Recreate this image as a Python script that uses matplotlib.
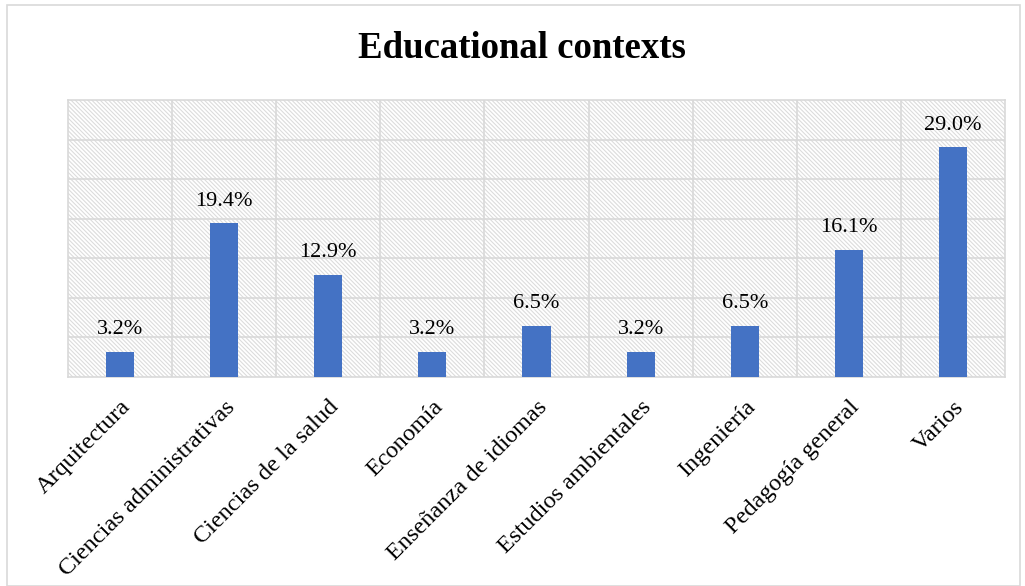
import matplotlib.pyplot as plt
from matplotlib.patches import Rectangle

# data
categories = ["Arquitectura", "Ciencias administrativas", "Ciencias de la salud",
              "Economía", "Enseñanza de idiomas", "Estudios ambientales",
              "Ingeniería", "Pedagogía general", "Varios"]
values = [3.2, 19.4, 12.9, 3.2, 6.5, 3.2, 6.5, 16.1, 29.0]
labels = ["3.2%", "19.4%", "12.9%", "3.2%", "6.5%", "3.2%", "6.5%", "16.1%", "29.0%"]

plt.rcParams['font.family'] = ['Liberation Serif', 'DejaVu Serif']
plt.rcParams['hatch.linewidth'] = 0.8
plt.rcParams['hatch.color'] = '#dcdcdc'

fig = plt.figure(figsize=(10.25, 5.86), dpi=100)
W, H = 1025, 586

# outer chart border
fig.patches.append(Rectangle((7 / W, 0), 1013 / W, 1 - 5 / H, transform=fig.transFigure,
                             fill=False, edgecolor='#d9d9d9', linewidth=1.2))

ax = fig.add_axes([68 / W, 1 - 377 / H, (1005 - 68) / W, (377 - 100) / H])

# hatched plot background
ax.add_patch(Rectangle((0, 0), 1, 1, transform=ax.transAxes, facecolor='white',
                       hatch='\\\\\\\\\\\\\\\\', edgecolor='#dcdcdc', linewidth=0, zorder=0))

x = range(len(categories))
ax.bar(x, values, width=0.27, color='#4472c4', zorder=3)

for xi, v, lab in zip(x, values, labels):
    ax.text(xi, v + 1.6, lab, ha='center', va='bottom', fontsize=16, zorder=4)

ax.set_xlim(-0.5, len(categories) - 0.5)
ax.set_ylim(0, 35)
for yv in range(5, 35, 5):
    ax.axhline(yv, color='#d9d9d9', linewidth=1.2, zorder=1)
for xv in range(len(categories) - 1):
    ax.axvline(xv + 0.5, color='#d9d9d9', linewidth=1.2, zorder=1)

for s in ax.spines.values():
    s.set_color('#d9d9d9')
    s.set_linewidth(1.2)

ax.set_yticks([])
ax.set_xticks(list(x))
ax.set_xticklabels(categories, rotation=45, ha='right', rotation_mode='anchor', fontsize=17.5)
ax.tick_params(axis='x', length=0, pad=14)

fig.text(522 / W, 1 - 48 / H, "Educational contexts", ha='center', va='center',
         fontsize=26.5, fontweight='bold')

fig.savefig("out.png", dpi=100)
